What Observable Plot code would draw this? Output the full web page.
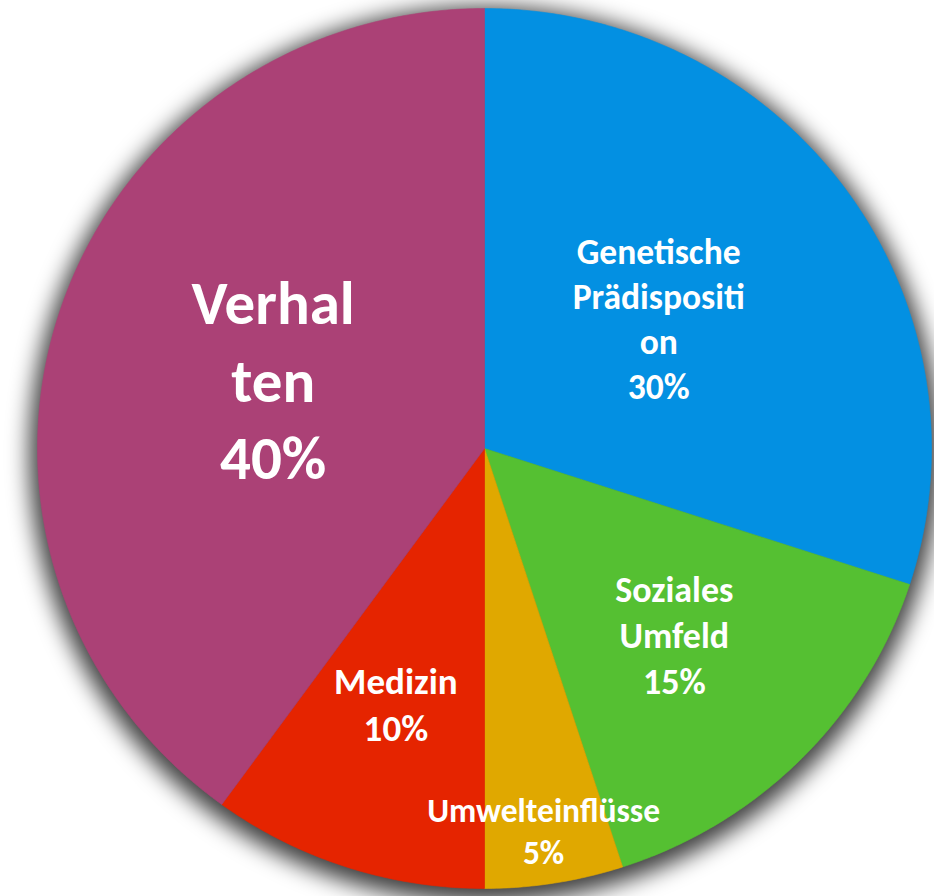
<!DOCTYPE html>
<html><head><meta charset="utf-8">
<script src="https://cdn.jsdelivr.net/npm/d3@7"></script>
<script src="https://cdn.jsdelivr.net/npm/@observablehq/plot@0.6"></script>
<style>html,body{margin:0;padding:0;background:#fff;overflow:hidden}</style>
</head><body><div id="chart"></div>
<script>
// data (clockwise from 12 o'clock)
const categories = ["Genetische Prädisposition", "Soziales Umfeld", "Umwelteinflüsse", "Medizin", "Verhalten"];
const labelLines = ["Genetische\nPrädispositi\non", "Soziales\nUmfeld", "Umwelteinflüsse", "Medizin", "Verhal\nten"];
const values = [30, 15, 5, 10, 40];
const colors = ["#0390E2", "#55C032", "#E0A800", "#E52400", "#AB4176"];

// label layout (radial fraction of the mid-angle, font size)
const labelRadius = [0.49, 0.61, 0.888, 0.62, 0.49];
const labelSize = [35.5, 36, 33.5, 37, 61];

const arcs = d3.pie().sort(null).value(d => d)(values);
const slicePts = [];
arcs.forEach((a, i) => {
  slicePts.push({cat: categories[i], x: 0, y: 0});
  const n = Math.max(2, Math.ceil((a.endAngle - a.startAngle) / (Math.PI / 360)));
  for (let k = 0; k <= n; k++) {
    const t = a.startAngle + (a.endAngle - a.startAngle) * k / n;
    slicePts.push({cat: categories[i], x: Math.sin(t), y: Math.cos(t)});
  }
  slicePts.push({cat: categories[i], x: 0, y: 0});
});
// outline for the soft shadow behind the pie
const shadowPts = d3.range(0, 721).map(k => {
  const t = k / 720 * 2 * Math.PI;
  return {x: 1.018 * Math.sin(t), y: 1.018 * Math.cos(t)};
});
const labels = arcs.map((a, i) => {
  const m = (a.startAngle + a.endAngle) / 2;
  return {x: labelRadius[i] * Math.sin(m), y: labelRadius[i] * Math.cos(m),
          text: labelLines[i] + "\n" + values[i] + "%", size: labelSize[i]};
});

const chart = Plot.plot({
  width: 934, height: 896, margin: 0,
  x: {domain: [-1, 1], range: [484 - 447, 484 + 447], axis: null},
  y: {domain: [-1, 1], range: [448 + 440, 448 - 440], axis: null},
  color: {domain: categories, range: colors},
  style: {background: "transparent"},
  marks: [
    Plot.line(shadowPts, {x: "x", y: "y", fill: "black", fillOpacity: 0.75, stroke: "none", dy: 6}),
    Plot.line(slicePts, {x: "x", y: "y", z: "cat", fill: "cat", stroke: "cat", strokeWidth: 0.6, curve: "linear"}),
    Plot.text(labels, {x: "x", y: "y", text: "text", fontSize: d => d.size, fill: "white", fontWeight: "bold",
      lineHeight: 1.27, lineAnchor: "middle", textAnchor: "middle", dx: -3, dy: -5,
      fontFamily: "Carlito, Lato, sans-serif"})
  ]
});
const svg = d3.select(chart);
svg.insert("defs", ":first-child")
  .append("filter").attr("id", "pieShadow")
  .attr("filterUnits", "userSpaceOnUse")
  .attr("x", -100).attr("y", -100).attr("width", 1134).attr("height", 1096)
  .append("feGaussianBlur").attr("stdDeviation", 11);
const lineGroups = svg.selectAll('g[aria-label="line"]').nodes();
if (lineGroups.length) d3.select(lineGroups[0]).attr("filter", "url(#pieShadow)");
document.getElementById("chart").appendChild(chart);
</script>
</body></html>
